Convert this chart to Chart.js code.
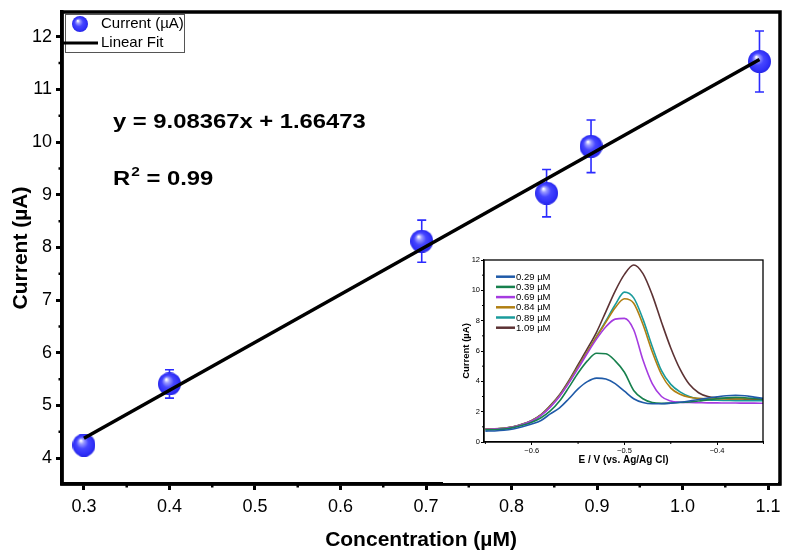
<!DOCTYPE html>
<html>
<head>
<meta charset="utf-8">
<script src="https://cdn.jsdelivr.net/npm/chart.js@4.4.0/dist/chart.umd.min.js"></script>
<style>
  html, body { margin: 0; padding: 0; background: #fff; }
  #wrap { position: relative; width: 792px; height: 555px; }
  #main { position: absolute; left: 0; top: 0; }
  #inset { position: absolute; left: 443px; top: 250px; background: #fff; }
</style>
</head>
<body>
<div id="wrap">
  <canvas id="main" width="792" height="555"></canvas>
  <canvas id="inset" width="335" height="233"></canvas>
</div>
<script>
// ---- main calibration data ----
const concentration = [0.3, 0.4, 0.695, 0.841, 0.893, 1.09];
const current = [4.25, 5.41, 8.12, 9.03, 9.92, 11.53];
const currentErr = [0.19, 0.27, 0.4, 0.45, 0.5, 0.58];
const fitX = [0.3, 1.09];
const fitY = [4.38, 11.57];
const xTicks = [0.3, 0.4, 0.5, 0.6, 0.7, 0.8, 0.9, 1.0, 1.1];
const xMinor = [0.35, 0.45, 0.55, 0.65, 0.75, 0.85, 0.95, 1.05];
const yTicks = [4, 5, 6, 7, 8, 9, 10, 11, 12];
const yMinor = [4.5, 5.5, 6.5, 7.5, 8.5, 9.5, 10.5, 11.5];

// ---- inset voltammograms ----
const potential = [-0.65, -0.64, -0.63, -0.62, -0.61, -0.60, -0.59, -0.58, -0.57, -0.56,
  -0.55, -0.54, -0.53, -0.52, -0.51, -0.50, -0.49, -0.48, -0.47, -0.46,
  -0.45, -0.44, -0.43, -0.42, -0.41, -0.40, -0.39, -0.38, -0.37, -0.36, -0.35];
const i029 = [0.72, 0.73, 0.77, 0.86, 1.0, 1.18, 1.42, 1.85, 2.25, 2.85, 3.5, 3.98, 4.21, 4.15, 3.85, 3.35,
  2.85, 2.6, 2.52, 2.52, 2.56, 2.62, 2.7, 2.8, 2.9, 2.98, 3.05, 3.08, 3.05, 2.96, 2.87];
const i039 = [0.8, 0.81, 0.85, 0.95, 1.1, 1.3, 1.6, 2.05, 2.7, 3.6, 4.55, 5.35, 5.85, 5.82, 5.35, 4.6,
  3.4, 2.85, 2.6, 2.55, 2.57, 2.6, 2.64, 2.7, 2.78, 2.85, 2.91, 2.94, 2.92, 2.87, 2.82];
const i069 = [0.84, 0.85, 0.89, 0.99, 1.15, 1.38, 1.75, 2.3, 3.0, 3.88, 4.85, 5.85, 6.8, 7.6, 8.1, 8.15,
  7.4, 5.4, 3.85, 3.0, 2.7, 2.62, 2.6, 2.59, 2.58, 2.58, 2.57, 2.57, 2.56, 2.56, 2.55];
const i084 = [0.85, 0.86, 0.9, 1.0, 1.17, 1.4, 1.78, 2.35, 3.05, 3.95, 4.95, 5.95, 6.95, 7.9, 8.85, 9.45,
  9.15, 7.75, 5.95, 4.45, 3.55, 3.15, 2.95, 2.88, 2.85, 2.84, 2.84, 2.84, 2.85, 2.85, 2.85];
const i089 = [0.85, 0.86, 0.9, 1.0, 1.17, 1.4, 1.78, 2.35, 3.05, 3.95, 4.95, 5.95, 6.97, 7.98, 9.05, 9.88,
  9.5, 8.1, 6.3, 4.7, 3.8, 3.3, 3.0, 2.85, 2.78, 2.75, 2.74, 2.73, 2.73, 2.72, 2.72];
const i109 = [0.86, 0.87, 0.91, 1.01, 1.18, 1.42, 1.8, 2.4, 3.12, 4.05, 5.1, 6.15, 7.25, 8.6, 9.95, 11.05,
  11.67, 11.1, 9.7, 7.9, 6.2, 4.8, 3.8, 3.25, 3.0, 2.9, 2.86, 2.84, 2.83, 2.82, 2.81];
const insetLabels = ['0.29 µM', '0.39 µM', '0.69 µM', '0.84 µM', '0.89 µM', '1.09 µM'];
const insetColors = ['#1f5aa8', '#17804d', '#a53be0', '#b07f12', '#1a9b9b', '#5c3234'];
const insetXTicks = [-0.6, -0.5, -0.4];
const insetXMinor = [-0.65, -0.55, -0.45, -0.35];
const insetYTicks = [0, 2, 4, 6, 8, 10, 12];
const insetYMinor = [1, 3, 5, 7, 9, 11];

const FONT = "'Liberation Sans', Arial, sans-serif";

function makeSphere(d) {
  const c = document.createElement('canvas');
  c.width = d; c.height = d;
  const g = c.getContext('2d');
  const r = d / 2;
  const grad = g.createRadialGradient(r * 0.72, r * 0.6, r * 0.04, r, r, r);
  grad.addColorStop(0, '#ffffff');
  grad.addColorStop(0.2, '#9a9aff');
  grad.addColorStop(0.5, '#4646ff');
  grad.addColorStop(0.85, '#3030f8');
  grad.addColorStop(1, '#2626e6');
  g.fillStyle = grad;
  g.beginPath();
  g.arc(r, r, r, 0, Math.PI * 2);
  g.fill();
  return c;
}
const sphere = makeSphere(23);
const smallSphere = makeSphere(16);

function drawMinorTicks(chart, xs, ys, len, width) {
  const { ctx, chartArea, scales: { x, y } } = chart;
  ctx.save();
  ctx.strokeStyle = '#000';
  ctx.lineWidth = width;
  ctx.beginPath();
  xs.forEach(v => {
    const px = x.getPixelForValue(v);
    ctx.moveTo(px, chartArea.bottom);
    ctx.lineTo(px, chartArea.bottom + len);
  });
  ys.forEach(v => {
    const py = y.getPixelForValue(v);
    ctx.moveTo(chartArea.left, py);
    ctx.lineTo(chartArea.left - len, py);
  });
  ctx.stroke();
  ctx.restore();
}

function drawFrame(chart, width) {
  const { ctx, chartArea: a } = chart;
  ctx.save();
  ctx.strokeStyle = '#000';
  ctx.lineWidth = width;
  ctx.strokeRect(a.left, a.top, a.right - a.left, a.bottom - a.top);
  ctx.restore();
}

// text squeezed a little wider, like the original export
function wideText(ctx, txt, x, y, sx) {
  ctx.save();
  ctx.translate(x, y);
  ctx.scale(sx, 1);
  ctx.fillText(txt, 0, 0);
  const w = ctx.measureText(txt).width * sx;
  ctx.restore();
  return w;
}

const errorBars = {
  id: 'errorBars',
  beforeDatasetsDraw(chart) {
    const { ctx, scales: { x, y } } = chart;
    ctx.save();
    ctx.strokeStyle = '#2b2bff';
    ctx.lineWidth = 1.6;
    concentration.forEach((c, i) => {
      const px = x.getPixelForValue(c);
      const top = y.getPixelForValue(current[i] + currentErr[i]);
      const bot = y.getPixelForValue(current[i] - currentErr[i]);
      ctx.beginPath();
      ctx.moveTo(px, top); ctx.lineTo(px, bot);
      ctx.moveTo(px - 4.5, top); ctx.lineTo(px + 4.5, top);
      ctx.moveTo(px - 4.5, bot); ctx.lineTo(px + 4.5, bot);
      ctx.stroke();
    });
    ctx.restore();
  }
};

const mainDecor = {
  id: 'mainDecor',
  afterDraw(chart) {
    const { ctx, chartArea: a } = chart;
    drawFrame(chart, 3.5);
    drawMinorTicks(chart, xMinor, yMinor, 3.5, 2.5);

    // legend box
    ctx.save();
    ctx.fillStyle = '#fff';
    ctx.fillRect(a.left + 3, a.top + 2, 120, 39);
    ctx.strokeStyle = '#555';
    ctx.lineWidth = 1;
    ctx.strokeRect(a.left + 3.5, a.top + 2.5, 119, 38);
    ctx.drawImage(smallSphere, a.left + 10, a.top + 4);
    ctx.strokeStyle = '#000';
    ctx.lineWidth = 3;
    ctx.beginPath();
    ctx.moveTo(a.left, a.top + 31);
    ctx.lineTo(a.left + 36, a.top + 31);
    ctx.stroke();
    ctx.fillStyle = '#000';
    ctx.font = '15px ' + FONT;
    ctx.textBaseline = 'middle';
    ctx.fillText('Current (µA)', a.left + 39, a.top + 12);
    ctx.fillText('Linear Fit', a.left + 39, a.top + 31);

    // fit equation
    ctx.font = 'bold 20px ' + FONT;
    wideText(ctx, 'y = 9.08367x + 1.66473', 113, 122, 1.19);
    let w = wideText(ctx, 'R', 113, 179, 1.19);
    ctx.font = 'bold 13px ' + FONT;
    w += wideText(ctx, '2', 113 + w + 1, 172, 1.19);
    ctx.font = 'bold 20px ' + FONT;
    wideText(ctx, ' = 0.99', 113 + w + 1, 179, 1.19);
    ctx.restore();
  }
};

new Chart(document.getElementById('main'), {
  type: 'scatter',
  data: {
    datasets: [
      {
        label: 'Linear Fit',
        data: fitX.map((v, i) => ({ x: v, y: fitY[i] })),
        showLine: true,
        borderColor: '#000',
        borderWidth: 3.5,
        pointRadius: 0
      },
      {
        label: 'Current (µA)',
        data: concentration.map((v, i) => ({ x: v, y: current[i] })),
        pointStyle: sphere,
        pointRadius: 11,
        clip: false
      }
    ]
  },
  options: {
    responsive: false,
    animation: false,
    events: [],
    layout: { padding: { top: 9, right: 10, left: 0, bottom: 0 } },
    plugins: { legend: { display: false }, tooltip: { enabled: false } },
    scales: {
      x: {
        type: 'linear',
        min: 0.2743,
        max: 1.114,
        afterBuildTicks: s => { s.ticks = xTicks.map(v => ({ value: v })); },
        afterFit: s => { s.height = 71; s.paddingLeft = 0; s.paddingRight = 0; },
        ticks: { color: '#000', font: { family: FONT, size: 18 }, padding: 6, callback: v => v.toFixed(1) },
        grid: { drawOnChartArea: false, color: '#000', tickLength: 6, tickWidth: 3 },
        border: { color: '#000', width: 3.5 },
        title: { display: true, text: 'Concentration (µM)', color: '#000',
          font: { family: FONT, size: 21, weight: 'bold' }, padding: { top: 0, bottom: 2 } }
      },
      y: {
        type: 'linear',
        min: 3.51,
        max: 12.47,
        afterBuildTicks: s => { s.ticks = yTicks.map(v => ({ value: v })); },
        afterFit: s => { s.width = 62; s.paddingTop = 0; s.paddingBottom = 0; },
        ticks: { color: '#000', font: { family: FONT, size: 18 }, padding: 4, callback: v => String(v) },
        grid: { drawOnChartArea: false, color: '#000', tickLength: 6, tickWidth: 3 },
        border: { color: '#000', width: 3.5 },
        title: { display: true, text: 'Current (µA)', color: '#000',
          font: { family: FONT, size: 21, weight: 'bold' }, padding: { top: 9, bottom: 0 } }
      }
    }
  },
  plugins: [errorBars, mainDecor]
});

// ---- inset ----
const insetSeries = [i029, i039, i069, i084, i089, i109];

const insetDecor = {
  id: 'insetDecor',
  afterDraw(chart) {
    const { ctx } = chart;
    drawFrame(chart, 1.3);
    drawMinorTicks(chart, insetXMinor, insetYMinor, 2, 1);
    ctx.save();
    ctx.font = '9.5px ' + FONT;
    ctx.textBaseline = 'middle';
    insetLabels.forEach((lab, i) => {
      const yy = 26.7 + i * 10.2;
      ctx.strokeStyle = insetColors[i];
      ctx.lineWidth = 2.5;
      ctx.beginPath();
      ctx.moveTo(53, yy);
      ctx.lineTo(72, yy);
      ctx.stroke();
      ctx.fillStyle = '#000';
      ctx.fillText(lab, 73, yy + 0.5);
    });
    ctx.restore();
  }
};

new Chart(document.getElementById('inset'), {
  type: 'scatter',
  data: {
    datasets: insetSeries.map((s, k) => ({
      label: insetLabels[k],
      data: potential.map((v, i) => ({ x: v, y: s[i] })),
      showLine: true,
      borderColor: insetColors[k],
      borderWidth: 1.6,
      pointRadius: 0,
      cubicInterpolationMode: 'monotone'
    }))
  },
  options: {
    responsive: false,
    animation: false,
    events: [],
    layout: { padding: { top: 10, right: 15, left: 0, bottom: 0 } },
    plugins: { legend: { display: false }, tooltip: { enabled: false } },
    scales: {
      x: {
        type: 'linear',
        min: -0.6515,
        max: -0.3505,
        afterBuildTicks: s => { s.ticks = insetXTicks.map(v => ({ value: v })); },
        afterFit: s => { s.height = 41; s.paddingLeft = 0; s.paddingRight = 0; },
        ticks: { color: '#000', font: { family: FONT, size: 7.5 }, padding: 1,
          callback: v => '\u2212' + Math.abs(v).toFixed(1) },
        grid: { drawOnChartArea: false, color: '#000', tickLength: 3, tickWidth: 1 },
        border: { color: '#000', width: 1.3 },
        title: { display: true, text: 'E / V (vs. Ag/Ag Cl)', color: '#000',
          font: { family: FONT, size: 10, weight: 'bold' }, padding: { top: 0, bottom: 17 } }
      },
      y: {
        type: 'linear',
        min: 0,
        max: 12,
        afterBuildTicks: s => { s.ticks = insetYTicks.map(v => ({ value: v })); },
        afterFit: s => { s.width = 41; s.paddingTop = 0; s.paddingBottom = 0; },
        ticks: { color: '#000', font: { family: FONT, size: 7.5 }, padding: 1 },
        grid: { drawOnChartArea: false, color: '#000', tickLength: 3, tickWidth: 1 },
        border: { color: '#000', width: 1.3 },
        title: { display: true, text: 'Current (µA)', color: '#000',
          font: { family: FONT, size: 9.5, weight: 'bold' }, padding: { top: 18, bottom: 0 } }
      }
    }
  },
  plugins: [insetDecor]
});
</script>
</body>
</html>
